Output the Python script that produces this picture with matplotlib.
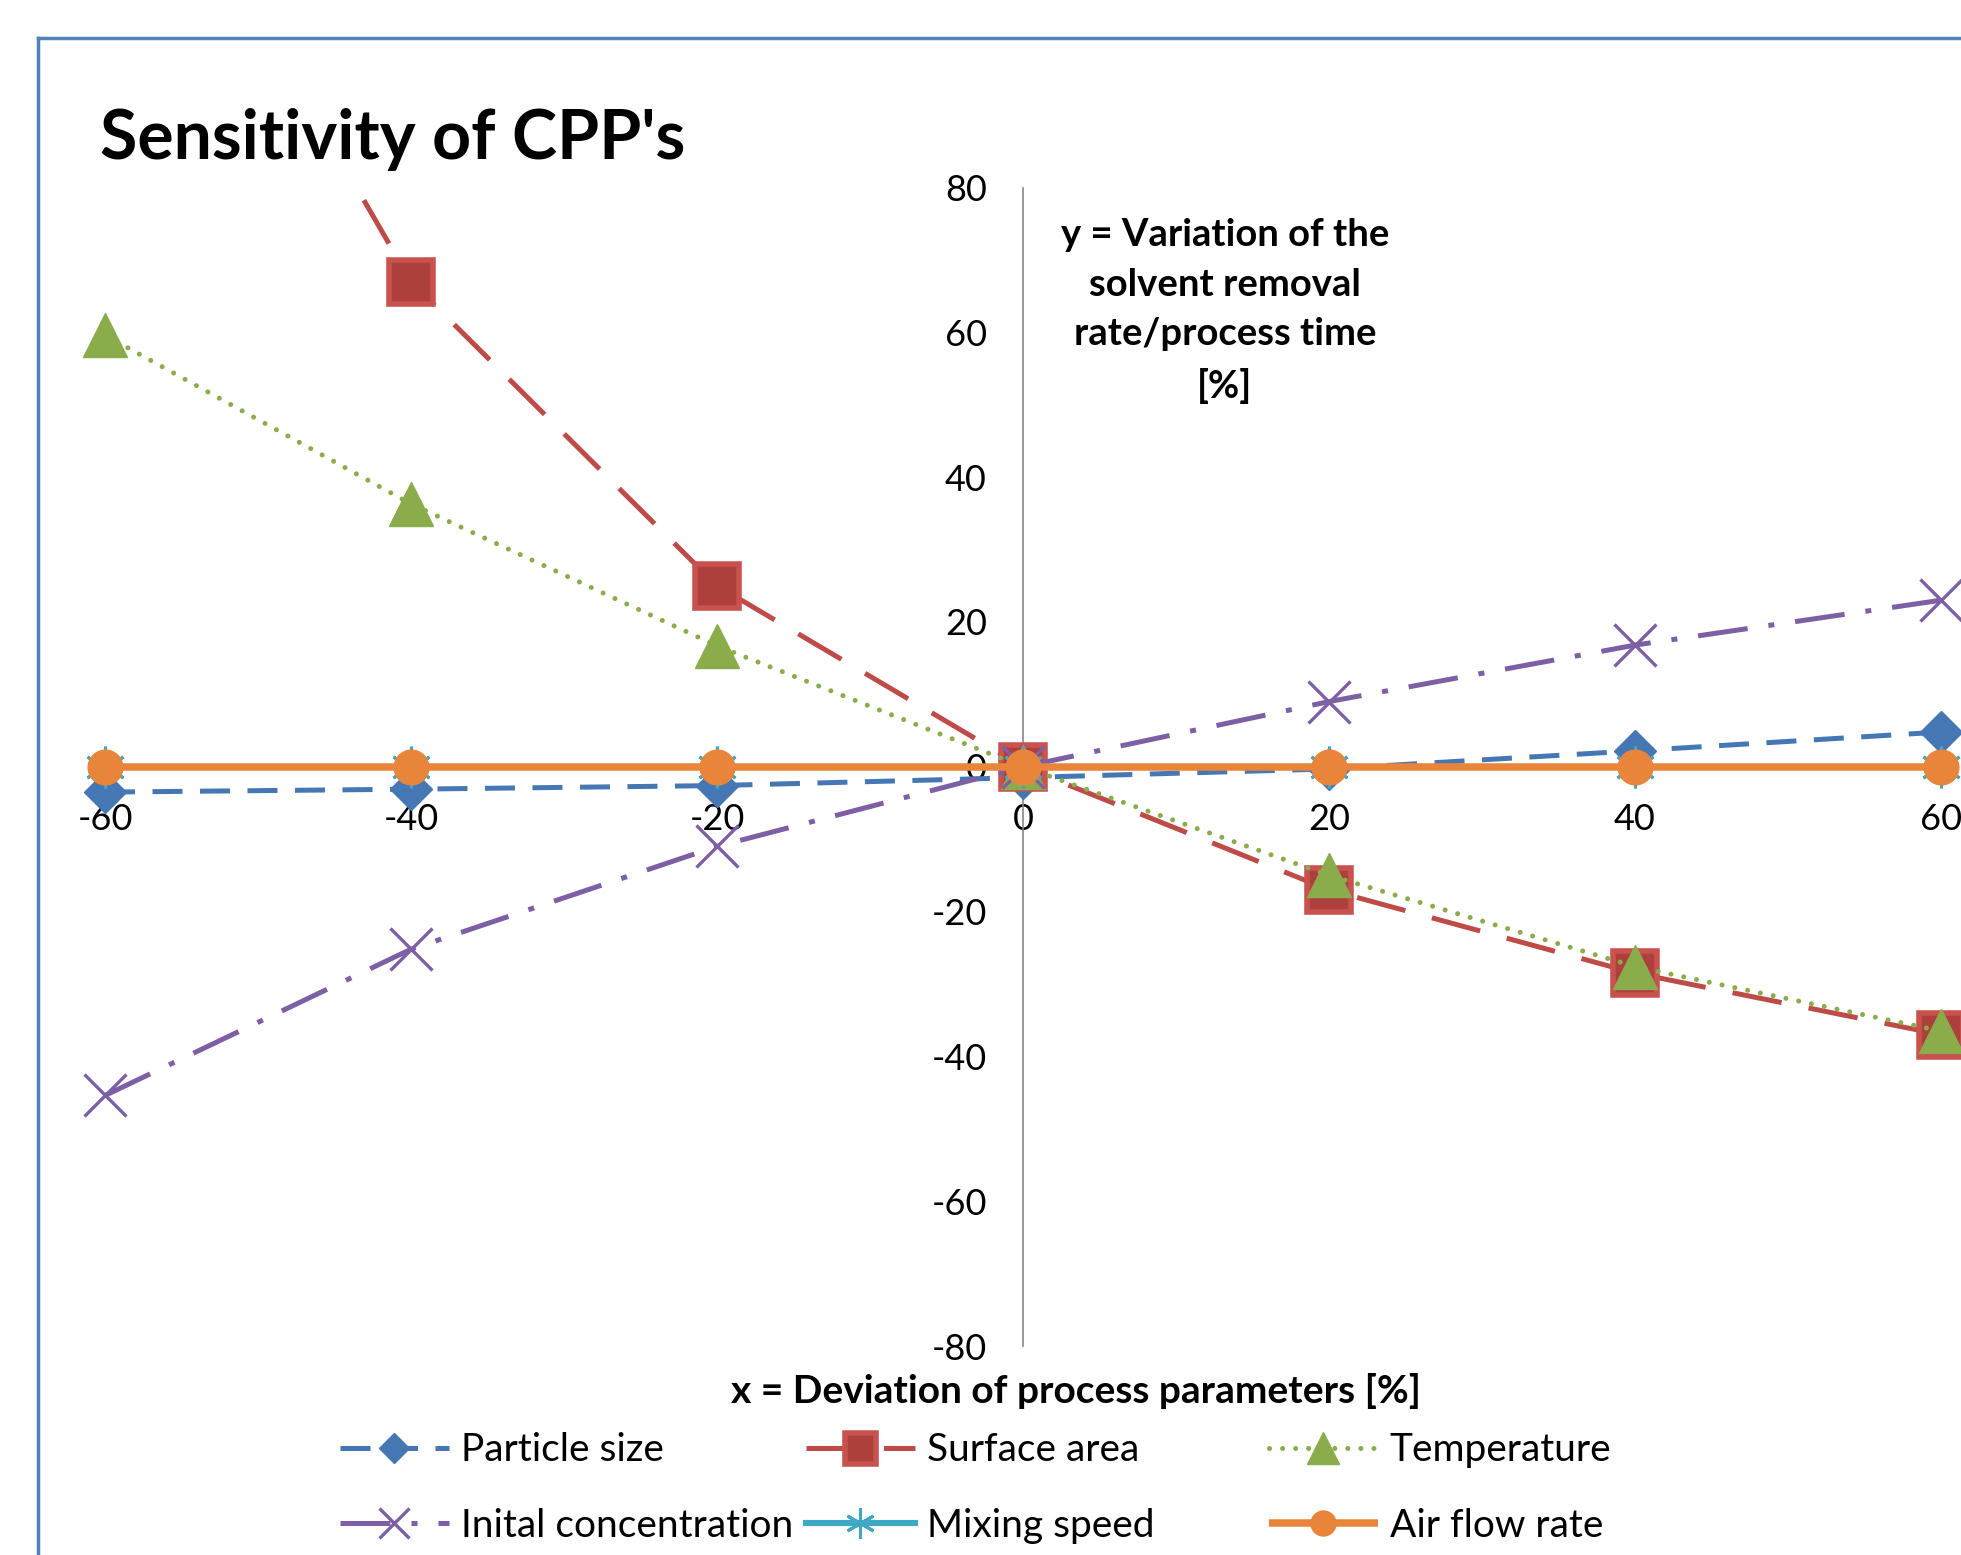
import numpy as np
import matplotlib
matplotlib.use("Agg")
import matplotlib.pyplot as plt
from matplotlib.lines import Line2D

plt.rcParams['font.family'] = ['Lato', 'DejaVu Sans']

# data
deviation = [-60, -40, -20, 0, 20, 40, 60]
particle_size = [-3.5, -3.1, -2.6, -1.5, -0.3, 2.2, 4.8]
surface_area = [140, 67, 25, 0, -17, -28.5, -37]
temperature = [59.6, 36.3, 16.7, 0, -15, -27.6, -36.5]
initial_conc = [-45.4, -25.2, -11, 0, 9, 16.8, 23]
mixing_speed = [0, 0, 0, 0, 0, 0, 0]
air_flow = [0, 0, 0, 0, 0, 0, 0]

x_ticks = [-60, -40, -20, 0, 20, 40, 60]
y_ticks = [-80, -60, -40, -20, 0, 20, 40, 60, 80]

W, H = 1961, 1555
fig = plt.figure(figsize=(W / 100, H / 100), dpi=100)

# axes placed so that x=-60 at 105px and x=60 at 1941px, y=80 at 187px, y=-80 at 1346px
xlo, xhi = -63, 63
px_per_x = (1941 - 105) / 120
left = (105 - 3 * px_per_x) / W
width = (xhi - xlo) * px_per_x / W
bottom = (H - 1346) / H
height = (1346 - 187.5) / H
ax = fig.add_axes([left, bottom, width, height])
ax.set_xlim(xlo, xhi)
ax.set_ylim(-80, 80)

fs = 26
lfs = 28
lw = 3.6
ax.plot(deviation, particle_size, color='#4677b5', lw=lw, ls=(0, (6, 3.5)),
        marker='D', ms=21, mec='#4677b5', mfc='#4677b5', label='Particle size')
ax.plot(deviation, surface_area, color='#be4b48', lw=lw, ls=(0, (10, 5.5)),
        marker='s', ms=31, mec='#c9514e', mfc='#ad403d', mew=4, label='Surface area')
ax.plot(deviation, temperature, color='#8aac4b', lw=lw, ls=(0, (0.01, 2.6)),
        dash_capstyle='round', marker='^', ms=32, mec='#8aac4b', mfc='#8aac4b',
        label='Temperature')
ax.plot(deviation, initial_conc, color='#7d5fa5', lw=lw, ls=(0, (10, 4.2, 1.2, 4.2)),
        marker='x', ms=30, mew=2.4, mec='#7d5fa5', label='Inital concentration')
ax.plot(deviation, mixing_speed, color='#3fa9c5', lw=4.4, ls='-',
        marker=(6, 2, 0), ms=30, mew=2.2, mec='#3fa9c5', label='Mixing speed')
ax.plot(deviation, air_flow, color='#e9853a', lw=5.4, ls='-', solid_capstyle='butt',
        marker='o', ms=25, mec='#e9853a', mfc='#e9853a', label='Air flow rate')

for s in ['top', 'right']:
    ax.spines[s].set_visible(False)
for s in ['left', 'bottom']:
    ax.spines[s].set_position(('data', 0))
    ax.spines[s].set_color('#868686')
    ax.spines[s].set_linewidth(1.2)
    ax.spines[s].set_zorder(1)
ax.spines['bottom'].set_bounds(-60, 60)
ax.set_xticks(x_ticks)
ax.set_yticks(y_ticks)
ax.set_xticklabels([str(v) for v in x_ticks])
ax.set_yticklabels([str(v) for v in y_ticks])
ax.tick_params(axis='both', length=0, labelsize=fs, labelcolor='#000000')
ax.tick_params(axis='x', pad=26)
ax.tick_params(axis='y', pad=26)
ax.set_axisbelow(True)
ax.patch.set_visible(False)

# titles and axis labels
fig.text(100 / W, 1 - 159 / H, "Sensitivity of CPP's", fontsize=49, fontweight='bold',
         ha='left', va='baseline')
fig.text(1225 / W, 1 - 311 / H, "y = Variation of the\nsolvent removal\nrate/process time\n[%]",
         fontsize=27.5, fontweight='bold', ha='center', va='center', multialignment='center',
         linespacing=1.55)
fig.text(1076 / W, 1 - 1391 / H, "x = Deviation of process parameters [%]",
         fontsize=28, fontweight='bold', ha='center', va='center')

# legend: three columns of two entries, evenly spaced like the original
handles = ax.get_lines()
col_x = [340, 806, 1269]
for i, cx in enumerate(col_x):
    leg = fig.legend([handles[i], handles[i + 3]],
                     [handles[i].get_label(), handles[i + 3].get_label()],
                     loc='center left', bbox_to_anchor=(cx / W, 1 - 1488 / H),
                     frameon=False, fontsize=lfs, handlelength=2.8, handletextpad=0.3,
                     borderpad=0, borderaxespad=0, labelspacing=1.02, numpoints=1,
                     markerscale=0.72)

# chart frame (cropped on the right and bottom)
fx = 37.5 / W
fy = 1 - 37.5 / H
fig.add_artist(Line2D([fx, fx], [fy, -0.01], color='#4f81bd', lw=2.5))
fig.add_artist(Line2D([fx, 1.01], [fy, fy], color='#4f81bd', lw=2.5))

fig.savefig('out.png', dpi=100)
